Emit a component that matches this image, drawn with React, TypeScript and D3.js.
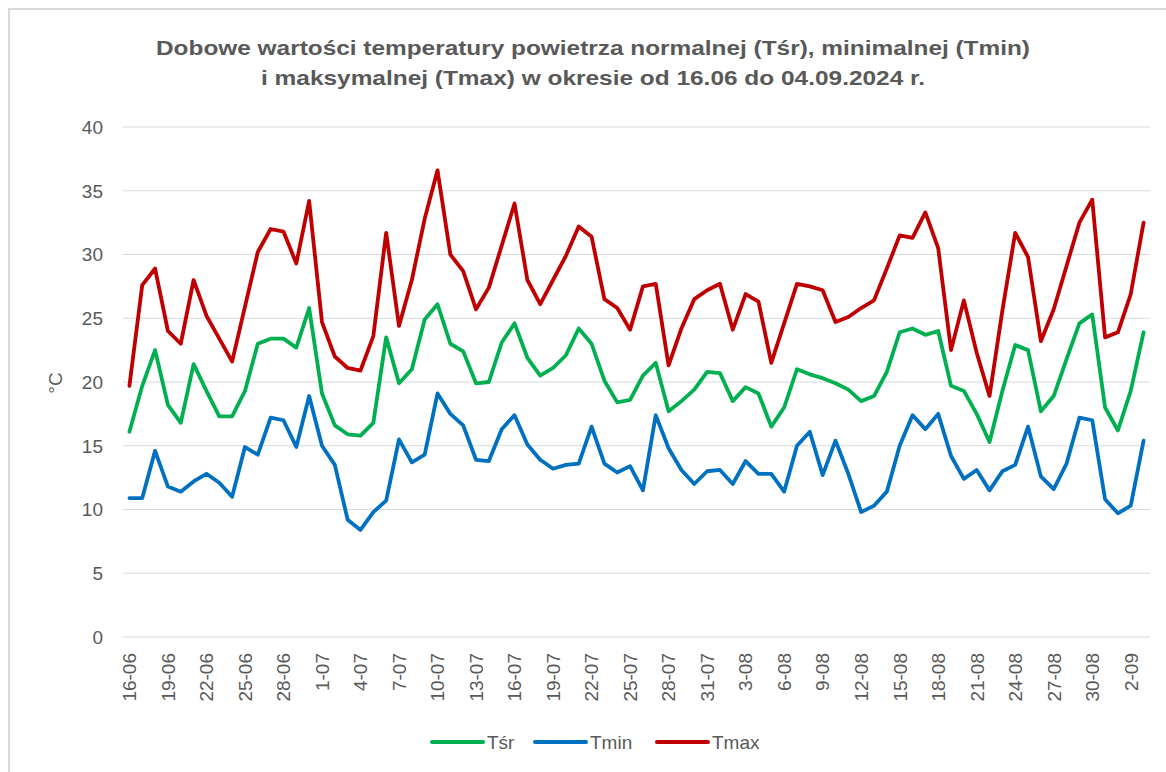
import React, { useEffect, useRef } from 'react'
import * as d3 from 'd3'

// daily values, 16-06 .. 3-09 (80 days)
const tsr = [
  16.1, 19.7, 22.5, 18.2, 16.8, 21.4, 19.3, 17.3, 17.3, 19.3,
  23.0, 23.4, 23.4, 22.7, 25.8, 19.1, 16.6, 15.9, 15.8, 16.8,
  23.5, 19.9, 21.0, 24.9, 26.1, 23.0, 22.4, 19.9, 20.0, 23.1,
  24.6, 21.9, 20.5, 21.1, 22.1, 24.2, 23.0, 20.1, 18.4, 18.6,
  20.5, 21.5, 17.7, 18.5, 19.4, 20.8, 20.7, 18.5, 19.6, 19.1,
  16.5, 18.0, 21.0, 20.6, 20.3, 19.9, 19.4, 18.5, 18.9, 20.8,
  23.9, 24.2, 23.7, 24.0, 19.7, 19.3, 17.5, 15.3, 19.3, 22.9,
  22.5, 17.7, 18.9, 21.8, 24.6, 25.3, 18.0, 16.2, 19.3, 23.9
]
const tmin = [
  10.9, 10.9, 14.6, 11.8, 11.4, 12.2, 12.8, 12.1, 11.0, 14.9,
  14.3, 17.2, 17.0, 14.9, 18.9, 15.0, 13.5, 9.2, 8.4, 9.8,
  10.7, 15.5, 13.7, 14.3, 19.1, 17.5, 16.6, 13.9, 13.8, 16.3,
  17.4, 15.1, 13.9, 13.2, 13.5, 13.6, 16.5, 13.6, 12.9, 13.4,
  11.5, 17.4, 14.8, 13.1, 12.0, 13.0, 13.1, 12.0, 13.8, 12.8,
  12.8, 11.4, 15.0, 16.1, 12.7, 15.4, 12.8, 9.8, 10.3, 11.4,
  15.0, 17.4, 16.3, 17.5, 14.2, 12.4, 13.1, 11.5, 13.0, 13.5,
  16.5, 12.6, 11.6, 13.6, 17.2, 17.0, 10.8, 9.7, 10.3, 15.4
]
const tmax = [
  19.7, 27.6, 28.9, 24.0, 23.0, 28.0, 25.2, 23.4, 21.6, 25.9,
  30.2, 32.0, 31.8, 29.3, 34.2, 24.7, 22.0, 21.1, 20.9, 23.6,
  31.7, 24.4, 28.0, 32.8, 36.6, 30.0, 28.7, 25.7, 27.4, 30.7,
  34.0, 28.0, 26.1, 28.0, 29.9, 32.2, 31.4, 26.5, 25.8, 24.1,
  27.5, 27.7, 21.3, 24.2, 26.5, 27.2, 27.7, 24.1, 26.9, 26.3,
  21.5, 24.6, 27.7, 27.5, 27.2, 24.7, 25.1, 25.8, 26.4, 28.9,
  31.5, 31.3, 33.3, 30.5, 22.5, 26.4, 22.3, 18.9, 25.6, 31.7,
  29.8, 23.2, 25.7, 29.1, 32.5, 34.3, 23.5, 23.9, 26.9, 32.5
]

const days = d3.timeDay.range(new Date(2024, 5, 16), new Date(2024, 8, 4))
const categories = days.map(d3.timeFormat('%-d-%m'))
const yTicks = [0, 5, 10, 15, 20, 25, 30, 35, 40]

const series = [
  { name: 'Tśr', values: tsr, color: '#00B050' },
  { name: 'Tmin', values: tmin, color: '#0070C0' },
  { name: 'Tmax', values: tmax, color: '#C00000' }
]

const titleLines = [
  'Dobowe wartości temperatury powietrza normalnej (Tśr), minimalnej (Tmin)',
  'i maksymalnej (Tmax) w okresie od 16.06 do 04.09.2024 r.'
]

const FONT = '"Liberation Sans", Arial, sans-serif'
const GREY = '#595959'

function App () {
  const ref = useRef<SVGSVGElement>(null)

  useEffect(() => {
    const svg = d3.select(ref.current)
    svg.selectAll('*').remove()

    const width = 1166
    const height = 772
    const left = 123
    const right = 1150
    const top = 127
    const bottom = 637

    // chart frame
    svg.append('rect')
      .attr('x', 9).attr('y', 9)
      .attr('width', width + 20).attr('height', height + 20)
      .attr('fill', '#fff')
      .attr('stroke', '#d9d9d9')
      .attr('stroke-width', 2)

    // title
    svg.append('g')
      .selectAll('text')
      .data(titleLines)
      .enter()
      .append('text')
      .attr('x', 593)
      .attr('y', (d, i) => 55 + i * 30)
      .attr('text-anchor', 'middle')
      .attr('textLength', (d, i) => i === 0 ? 874 : 664)
      .attr('lengthAdjust', 'spacingAndGlyphs')
      .style('font-family', FONT)
      .style('font-weight', 'bold')
      .style('font-size', '21px')
      .style('fill', GREY)
      .text(d => d)

    const x = d3.scalePoint<string>()
      .domain(categories)
      .range([left, right])
      .padding(0.5)

    const y = d3.scaleLinear()
      .domain([0, 40])
      .range([bottom, top])

    // gridlines
    svg.append('g')
      .selectAll('line')
      .data(yTicks)
      .enter()
      .append('line')
      .attr('x1', left).attr('x2', right)
      .attr('y1', d => y(d)).attr('y2', d => y(d))
      .attr('stroke', '#d9d9d9')
      .attr('stroke-width', 1)

    // y labels
    svg.append('g')
      .selectAll('text')
      .data(yTicks)
      .enter()
      .append('text')
      .attr('x', 103)
      .attr('y', d => y(d))
      .attr('dy', '0.36em')
      .attr('text-anchor', 'end')
      .style('font-family', FONT)
      .style('font-size', '19px')
      .style('fill', GREY)
      .text(d => d)

    // y axis title
    svg.append('text')
      .attr('transform', 'translate(62,383) rotate(-90)')
      .attr('text-anchor', 'middle')
      .style('font-family', FONT)
      .style('font-size', '19px')
      .style('fill', GREY)
      .text('°C')

    // x labels, every third day
    svg.append('g')
      .selectAll('text')
      .data(categories.filter((d, i) => i % 3 === 0))
      .enter()
      .append('text')
      .attr('transform', d => 'translate(' + x(d) + ',653) rotate(-90)')
      .attr('dy', '0.36em')
      .attr('text-anchor', 'end')
      .style('font-family', FONT)
      .style('font-size', '19px')
      .style('fill', GREY)
      .text(d => d)

    const line = d3.line<number>()
      .x((d, i) => x(categories[i]) as number)
      .y(d => y(d))

    svg.append('g')
      .selectAll('path')
      .data(series)
      .enter()
      .append('path')
      .attr('fill', 'none')
      .attr('stroke', d => d.color)
      .attr('stroke-width', 3.8)
      .attr('stroke-linejoin', 'round')
      .attr('stroke-linecap', 'round')
      .attr('d', d => line(d.values))

    // legend
    const legendX = [432, 535, 657]
    const legend = svg.append('g')
      .selectAll('g')
      .data(series)
      .enter()
      .append('g')
      .attr('transform', (d, i) => 'translate(' + legendX[i] + ',742)')
    legend.append('line')
      .attr('x1', 0).attr('x2', 51)
      .attr('stroke', d => d.color)
      .attr('stroke-width', 4)
      .attr('stroke-linecap', 'round')
    legend.append('text')
      .attr('x', 55)
      .attr('dy', '0.36em')
      .style('font-family', FONT)
      .style('font-size', '19px')
      .style('fill', GREY)
      .text(d => d.name)
  }, [])

  return (
    <svg
      ref={ref}
      width={1166}
      height={772}
      style={{ position: 'absolute', left: 0, top: 0, background: '#fff' }}
    />
  )
}

export default App
